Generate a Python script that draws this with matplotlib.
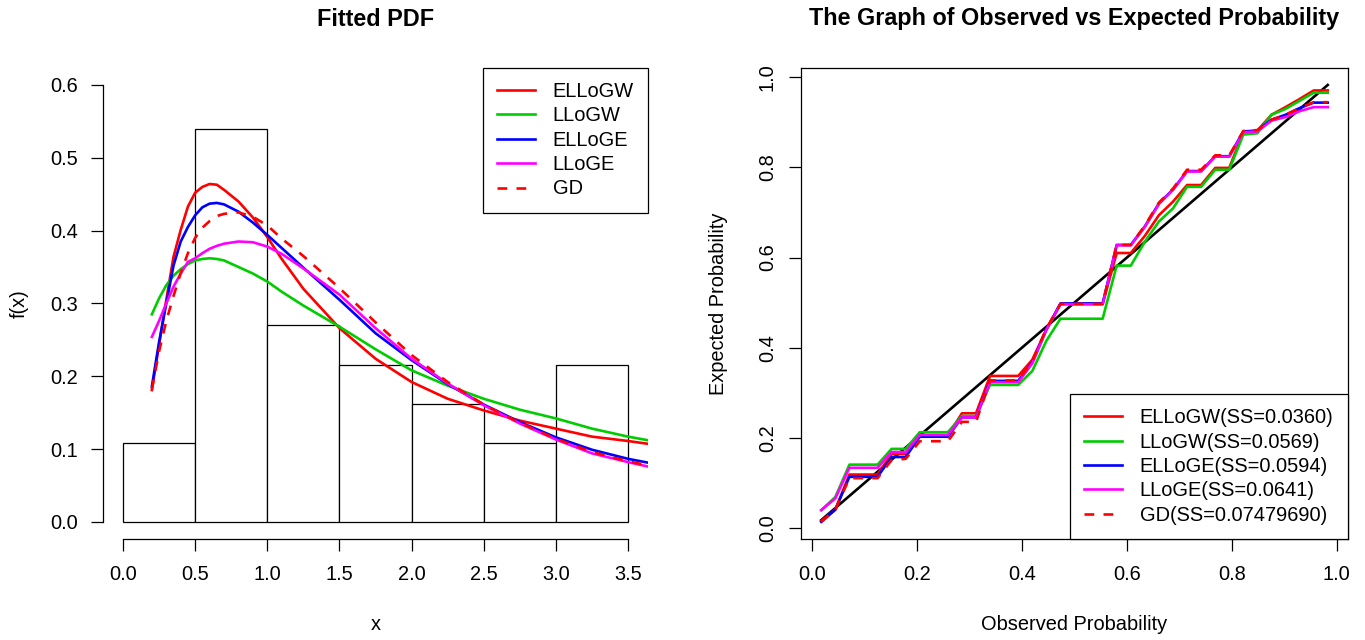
import numpy as np
import matplotlib
matplotlib.use('Agg')
import matplotlib.pyplot as plt

plt.rcParams['font.family'] = ['Liberation Sans', 'DejaVu Sans']

# histogram (density, bins of width 0.5)
bin_edges = [0.0, 0.5, 1.0, 1.5, 2.0, 2.5, 3.0, 3.5]
bin_density = [0.108, 0.540, 0.270, 0.216, 0.162, 0.108, 0.216]

# fitted pdf curves
x_grid = [0.2, 0.25, 0.3, 0.35, 0.4, 0.45, 0.5, 0.55, 0.6, 0.65, 0.7, 0.8, 0.9,
          1.0, 1.1, 1.25, 1.5, 1.75, 2.0, 2.25, 2.5, 2.75, 3.0, 3.25, 3.5, 3.75]
pdf_ellogw = [0.181, 0.243, 0.305, 0.364, 0.401, 0.433, 0.452, 0.460, 0.464, 0.463, 0.456, 0.440, 0.418,
              0.391, 0.361, 0.320, 0.266, 0.224, 0.192, 0.169, 0.153, 0.139, 0.128, 0.117, 0.111, 0.104]
pdf_llogw = [0.285, 0.307, 0.325, 0.338, 0.347, 0.354, 0.359, 0.361, 0.362, 0.361, 0.359, 0.350, 0.341,
             0.330, 0.316, 0.297, 0.268, 0.237, 0.208, 0.187, 0.169, 0.154, 0.142, 0.128, 0.117, 0.108]
pdf_elloge = [0.186, 0.247, 0.300, 0.352, 0.385, 0.405, 0.421, 0.432, 0.437, 0.438, 0.436, 0.426, 0.411,
              0.394, 0.376, 0.349, 0.305, 0.259, 0.222, 0.189, 0.161, 0.137, 0.116, 0.099, 0.0865, 0.077]
pdf_lloge = [0.254, 0.276, 0.300, 0.323, 0.341, 0.357, 0.362, 0.369, 0.375, 0.379, 0.382, 0.385, 0.384,
             0.378, 0.368, 0.348, 0.312, 0.266, 0.224, 0.190, 0.160, 0.135, 0.113, 0.094, 0.082, 0.071]
pdf_gd = [0.182, 0.234, 0.276, 0.310, 0.342, 0.369, 0.390, 0.404, 0.413, 0.420, 0.423, 0.425, 0.419,
          0.407, 0.389, 0.365, 0.321, 0.274, 0.229, 0.192, 0.161, 0.136, 0.114, 0.096, 0.083, 0.073]

# P-P plot
obs_prob = [0.0168, 0.0436, 0.0705, 0.0973, 0.1242, 0.1510, 0.1779, 0.2047, 0.2315, 0.2584,
            0.2852, 0.3121, 0.3389, 0.3658, 0.3926, 0.4195, 0.4463, 0.4732, 0.5000, 0.5268,
            0.5537, 0.5805, 0.6074, 0.6342, 0.6611, 0.6879, 0.7148, 0.7416, 0.7685, 0.7953,
            0.8221, 0.8490, 0.8758, 0.9027, 0.9295, 0.9564, 0.9832]
exp_ellogw = [0.015, 0.040, 0.118, 0.118, 0.118, 0.164, 0.164, 0.205, 0.205, 0.205,
              0.254, 0.254, 0.337, 0.337, 0.337, 0.373, 0.440, 0.497, 0.497, 0.497,
              0.497, 0.610, 0.610, 0.648, 0.694, 0.724, 0.761, 0.761, 0.799, 0.799,
              0.878, 0.882, 0.917, 0.934, 0.952, 0.971, 0.971]
exp_llogw = [0.039, 0.068, 0.140, 0.140, 0.140, 0.175, 0.175, 0.212, 0.212, 0.212,
             0.248, 0.248, 0.317, 0.317, 0.317, 0.348, 0.415, 0.464, 0.464, 0.464,
             0.464, 0.582, 0.582, 0.635, 0.680, 0.709, 0.757, 0.757, 0.795, 0.795,
             0.873, 0.876, 0.917, 0.930, 0.948, 0.966, 0.966]
exp_elloge = [0.013, 0.040, 0.113, 0.113, 0.113, 0.157, 0.157, 0.202, 0.202, 0.202,
              0.245, 0.245, 0.326, 0.326, 0.326, 0.367, 0.440, 0.498, 0.498, 0.498,
              0.498, 0.628, 0.628, 0.669, 0.720, 0.751, 0.792, 0.792, 0.825, 0.825,
              0.880, 0.882, 0.906, 0.917, 0.932, 0.944, 0.944]
exp_lloge = [0.039, 0.065, 0.133, 0.133, 0.133, 0.168, 0.168, 0.206, 0.206, 0.206,
             0.245, 0.245, 0.323, 0.323, 0.323, 0.365, 0.440, 0.496, 0.496, 0.496,
             0.496, 0.627, 0.627, 0.668, 0.719, 0.750, 0.791, 0.791, 0.824, 0.824,
             0.878, 0.880, 0.904, 0.912, 0.925, 0.934, 0.934]
exp_gd = [0.013, 0.040, 0.110, 0.110, 0.110, 0.150, 0.153, 0.192, 0.192, 0.192,
          0.235, 0.235, 0.327, 0.327, 0.327, 0.370, 0.442, 0.497, 0.497, 0.497,
          0.497, 0.628, 0.628, 0.671, 0.722, 0.753, 0.795, 0.795, 0.827, 0.827,
          0.881, 0.883, 0.906, 0.917, 0.932, 0.945, 0.945]

models = ['ELLoGW', 'LLoGW', 'ELLoGE', 'LLoGE', 'GD']
ss_values = ['0.0360', '0.0569', '0.0594', '0.0641', '0.07479690']
colors = ['#ff0000', '#00cd00', '#0000ff', '#ff00ff', '#ff0000']
styles = ['-', '-', '-', '-', (0, (3.7, 3.5))]

x_ticks_left = [0.0, 0.5, 1.0, 1.5, 2.0, 2.5, 3.0, 3.5]
y_ticks_left = [0.0, 0.1, 0.2, 0.3, 0.4, 0.5, 0.6]
ticks_right = [0.0, 0.2, 0.4, 0.6, 0.8, 1.0]

FS = 14.4
LW = 1.9
W, H = 1365, 640


def r_lim(lo, hi):
    r = hi - lo
    return lo - 0.04 * r, hi + 0.04 * r


fig = plt.figure(figsize=(W / 100, H / 100), dpi=100)
ax1 = fig.add_axes([102.8 / W, (H - 539.3) / H, 545.5 / W, 471.8 / H])
ax2 = fig.add_axes([801 / W, (H - 539.3) / H, 547 / W, 471.8 / H])

# ---- left: histogram + fitted pdfs
ax1.bar(bin_edges[:-1], bin_density, width=np.diff(bin_edges), align='edge',
        facecolor='white', edgecolor='black', linewidth=0.9, zorder=1)
pdfs = [pdf_ellogw, pdf_llogw, pdf_elloge, pdf_lloge, pdf_gd]
for name, ys, c, ls in zip(models, pdfs, colors, styles):
    ax1.plot(x_grid, ys, color=c, linestyle=ls, linewidth=LW, label=name, zorder=2)

ax1.set_xlim(*r_lim(0, 3.5))
ax1.set_ylim(*r_lim(0, 0.6))
ax1.set_xticks(x_ticks_left)
ax1.set_xticklabels(['%.1f' % v for v in x_ticks_left])
ax1.set_yticks(y_ticks_left)
ax1.set_yticklabels(['%.1f' % v for v in y_ticks_left])
for s in ['top', 'right']:
    ax1.spines[s].set_visible(False)
ax1.spines['bottom'].set_bounds(0, 3.5)
ax1.spines['left'].set_bounds(0, 0.6)
for s in ['bottom', 'left']:
    ax1.spines[s].set_linewidth(0.9)
ax1.tick_params(direction='out', length=8.8, width=0.9, labelsize=FS)
ax1.tick_params(axis='x', pad=9.7)
ax1.tick_params(axis='y', pad=8.7)

leg_kw = dict(borderaxespad=0, fancybox=False, edgecolor='black', framealpha=1, fontsize=FS,
              handlelength=1.9, handletextpad=0.88, borderpad=0.72, labelspacing=0.27)
leg1 = ax1.legend(loc='upper right', bbox_to_anchor=(1, 1), **leg_kw)
leg1.get_frame().set_linewidth(0.9)

# ---- right: observed vs expected probability
ax2.plot(obs_prob, obs_prob, color='black', linewidth=LW, zorder=1)
exps = [exp_ellogw, exp_llogw, exp_elloge, exp_lloge, exp_gd]
for name, ss, ys, c, ls in zip(models, ss_values, exps, colors, styles):
    ax2.plot(obs_prob, ys, color=c, linestyle=ls, linewidth=LW,
             label='%s(SS=%s)' % (name, ss), zorder=2)

ax2.set_xlim(*r_lim(min(obs_prob), max(obs_prob)))
all_y = obs_prob + exp_ellogw + exp_llogw + exp_elloge + exp_lloge + exp_gd
ax2.set_ylim(*r_lim(min(all_y), max(all_y)))
ax2.set_xticks(ticks_right)
ax2.set_xticklabels(['%.1f' % v for v in ticks_right])
ax2.set_yticks(ticks_right)
ax2.set_yticklabels(['%.1f' % v for v in ticks_right], rotation=90, va='center')
for s in ax2.spines.values():
    s.set_linewidth(0.9)
ax2.tick_params(direction='out', length=8.8, width=0.9, labelsize=FS)
ax2.tick_params(axis='x', pad=9.7)
ax2.tick_params(axis='y', pad=8.6)

leg2 = ax2.legend(loc='lower right', bbox_to_anchor=(1, 0), **leg_kw)
leg2.get_frame().set_linewidth(0.9)

# titles and axis labels
fig.text(375.5 / W, 1 - 19 / H, 'Fitted PDF', ha='center', va='center',
         fontsize=16.8, fontweight='bold')
fig.text(1074.5 / W, 1 - 19 / H, 'The Graph of Observed vs Expected Probability',
         ha='center', va='center', fontsize=16.8, fontweight='bold')
fig.text(375.5 / W, 1 - 624 / H, 'x', ha='center', va='center', fontsize=FS)
fig.text(1074.5 / W, 1 - 624 / H, 'Observed Probability', ha='center', va='center', fontsize=FS)
fig.text(19 / W, 1 - 303.5 / H, 'f(x)', ha='center', va='center', rotation=90, fontsize=FS)
fig.text(718 / W, 1 - 303.5 / H, 'Expected Probability', ha='center', va='center',
         rotation=90, fontsize=FS)

fig.savefig('out.png', dpi=100)
